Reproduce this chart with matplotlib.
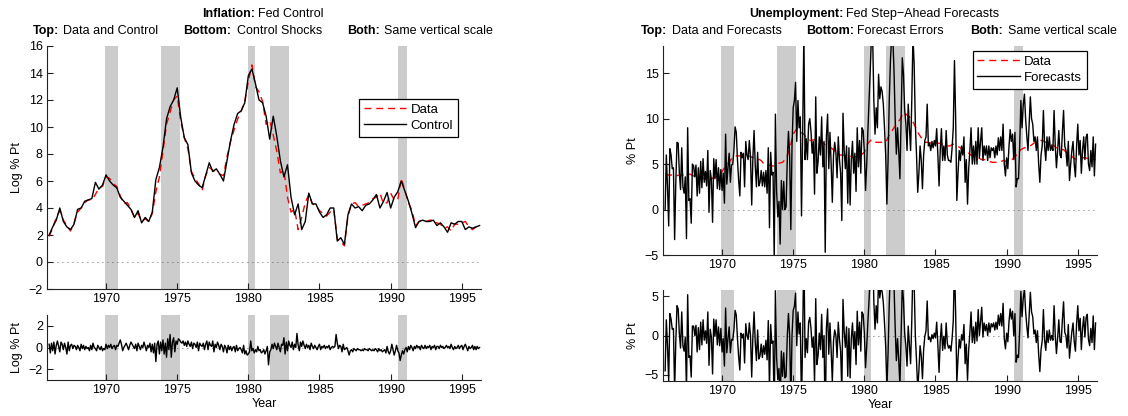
import numpy as np
import matplotlib
matplotlib.use("Agg")
import matplotlib.pyplot as plt

plt.rcParams['font.family'] = ['Liberation Sans', 'DejaVu Sans']
plt.rcParams['axes.unicode_minus'] = True

# ---------------- data ----------------
recessions = [(1969.92, 1970.83), (1973.83, 1975.17), (1980.0, 1980.5),
              (1981.5, 1982.83), (1990.5, 1991.17)]
xticks = [1970, 1975, 1980, 1985, 1990, 1995]

# quarterly series, starting 1966 Q1
infl_data = [
    1.9, 2.5, 3.3, 3.8, 3.1, 2.7, 2.3, 2.9, 3.7, 4.0, 4.4, 4.6,
    4.6, 5.0, 5.5, 5.6, 6.3, 6.2, 5.8, 5.6, 4.9, 4.3, 4.4, 3.9,
    3.3, 3.6, 3.0, 3.2, 3.0, 3.6, 5.2, 6.3, 8.2, 10.2, 11.1, 12.0,
    12.3, 10.4, 9.2, 8.4, 6.7, 6.2, 5.8, 5.3, 6.4, 7.0, 6.8, 6.7,
    6.5, 6.4, 7.8, 8.9, 9.8, 10.6, 11.2, 11.9, 13.4, 14.6, 13.0, 12.6,
    11.9, 10.2, 10.5, 9.4, 8.2, 6.6, 6.8, 4.8, 3.7, 3.9, 2.4, 3.3,
    4.4, 5.0, 4.3, 4.2, 3.8, 3.6, 3.4, 3.7, 3.9, 1.7, 1.5, 1.2,
    3.4, 4.3, 4.4, 4.1, 4.2, 4.3, 4.4, 4.7, 4.8, 5.1, 4.3, 4.4,
    5.1, 4.6, 4.6, 6.2, 5.3, 4.4, 3.8, 2.7, 3.0, 3.1, 3.0, 3.1,
    3.1, 2.9, 2.8, 2.5, 2.6, 2.3, 2.8, 2.8, 2.9, 3.0, 2.6, 2.4,
    2.6, 2.7]
infl_control = [
    2.0, 2.6, 3.1, 4.0, 3.0, 2.6, 2.4, 2.8, 3.9, 4.0, 4.5, 4.6,
    4.7, 5.9, 5.4, 5.7, 6.45, 6.0, 5.7, 5.5, 4.8, 4.5, 4.2, 3.9,
    3.3, 3.8, 2.9, 3.3, 3.0, 3.7, 6.1, 7.0, 8.5, 10.6, 11.5, 12.0,
    12.9, 10.7, 9.2, 8.7, 6.6, 6.0, 5.7, 5.5, 6.4, 7.35, 6.7, 6.9,
    6.5, 6.0, 7.5, 9.0, 10.2, 11.0, 11.2, 11.8, 13.8, 14.3, 13.2, 12.0,
    11.8, 10.8, 9.1, 10.8, 9.3, 7.5, 6.3, 7.2, 4.8, 3.5, 4.3, 2.4,
    3.0, 5.1, 4.3, 4.3, 3.7, 3.3, 3.5, 4.0, 4.0, 1.55, 1.8, 1.3,
    3.5, 4.3, 4.0, 4.1, 3.8, 4.2, 4.3, 4.6, 5.0, 4.0, 4.5, 5.15,
    4.0, 4.8, 5.2, 6.0, 5.25, 4.5, 3.6, 2.55, 3.0, 3.1, 3.0, 3.0,
    3.1, 2.7, 2.9, 2.6, 2.2, 2.9, 2.8, 3.0, 3.0, 2.4, 2.6, 2.5,
    2.6, 2.7]
unemp_data = [
    3.9, 3.8, 3.8, 3.7, 3.8, 3.8, 3.8, 3.9, 3.7, 3.6, 3.5, 3.4,
    3.4, 3.4, 3.6, 3.6, 4.2, 4.8, 5.2, 5.8, 5.9, 5.9, 6.0, 6.0,
    5.8, 5.7, 5.6, 5.4, 4.9, 4.9, 4.8, 4.8, 5.1, 5.2, 5.6, 6.6,
    8.3, 8.9, 8.5, 8.3, 7.7, 7.6, 7.7, 7.8, 7.5, 7.1, 6.9, 6.7,
    6.3, 6.0, 6.0, 5.9, 5.9, 5.7, 5.9, 6.0, 6.3, 7.3, 7.7, 7.4,
    7.4, 7.4, 7.4, 8.2, 8.8, 9.4, 9.9, 10.7, 10.4, 10.1, 9.4, 8.5,
    7.9, 7.4, 7.4, 7.3, 7.3, 7.3, 7.2, 7.0, 7.0, 7.2, 7.0, 6.8,
    6.6, 6.3, 6.0, 5.8, 5.7, 5.5, 5.5, 5.3, 5.2, 5.2, 5.2, 5.4,
    5.3, 5.3, 5.7, 6.1, 6.6, 6.8, 6.9, 7.1, 7.4, 7.6, 7.6, 7.4,
    7.1, 7.1, 6.8, 6.6, 6.6, 6.2, 6.0, 5.6, 5.5, 5.7, 5.7, 5.6,
    5.5, 5.5]

# monthly series, starting Jan 1966
control_shocks = [
    0.3, -0.5, 0.4, -0.3, 0.5, -0.6, 0.2, 0.6, 0.1, -0.4, 0.5, 0.3,
    -0.2, 0.4, 0.0, -0.6, 0.5, -0.3, 0.2, 0.3, -0.1, 0.2, 0.1, -0.2,
    0.2, 0.0, -0.3, 0.3, -0.1, 0.2, -0.2, 0.1, -0.1, 0.0, -0.3, 0.2,
    -0.2, 0.4, 0.0, -0.1, -0.3, 0.2, 0.0, -0.2, 0.1, -0.3, -0.1, -0.2,
    0.3, -0.1, 0.2, 0.0, 0.3, -0.1, 0.1, 0.2, -0.2, 0.2, 0.1, 0.4,
    0.7, 0.3, -0.3, 0.0, 0.2, 0.4, 0.1, -0.2, 0.2, 0.5, 0.3, 0.1,
    -0.1, 0.3, -0.3, 0.4, 0.1, -0.2, 0.2, 0.0, 0.5, 0.1, -0.3, 0.2,
    0.0, 0.4, -0.4, 0.3, -0.5, 0.4, -1.3, 0.3, 0.6, -0.6, 0.5, -0.3,
    0.7, -0.6, 0.4, -0.9, 0.8, -0.2, 1.2, -0.9, 0.5, 0.9, -0.4, 0.6,
    0.3, 0.8, 0.7, 0.5, 0.4, 0.6, 0.2, 0.5, 0.1, 0.6, 0.3, 0.1,
    0.5, -0.1, 0.4, 0.3, 0.0, 0.5, -0.3, 0.4, 0.2, 0.1, 0.4, -0.2,
    0.3, 0.6, -0.2, 0.5, 0.2, 0.1, 0.6, -0.4, 0.3, 0.0, 0.5, 0.2,
    -0.2, 0.3, 0.1, -0.4, 0.2, 0.0, -0.5, 0.2, -0.2, 0.1, -0.3, 0.0,
    0.1, -0.4, 0.2, -0.3, -0.1, 0.0, -0.2, -0.5, 0.2, -0.6, -0.3, -0.7,
    -0.6, -0.4, 0.6, -0.3, -0.1, -0.5, -0.2, -0.4, 0.1, -0.3, -0.2, -0.5,
    -0.4, -0.2, -0.6, -0.3, 0.1, -1.6, -0.4, -0.2, 0.3, -0.1, 0.4, 0.1,
    -0.2, 0.4, 0.0, -0.4, 0.3, 0.2, 0.9, -0.6, 0.5, -0.3, 0.6, 0.2,
    0.0, 0.5, -0.2, 0.3, 0.0, 1.3, 0.2, -0.3, 0.5, 0.1, 0.6, 0.2,
    -0.1, 0.3, 0.0, 0.2, -0.2, 0.4, 0.1, -0.1, 0.2, 0.0, -0.2, 0.1,
    0.3, -0.2, 0.1, 0.0, 0.2, -0.1, 0.1, 0.0, 0.2, -0.2, 0.0, 0.1,
    0.0, 0.1, 1.2, 0.4, -0.1, 0.2, 0.1, -0.4, 0.3, -0.2, -0.1, 0.0,
    -0.3, -0.7, -0.3, -0.2, -0.4, -0.1, -0.2, -0.3, -0.1, -0.2, -0.2, -0.3,
    -0.2, -0.3, -0.1, -0.2, -0.2, -0.3, -0.1, -0.2, -0.3, -0.2, -0.3, -0.1,
    -0.2, -0.4, -0.1, -0.3, -0.2, -0.4, -0.3, -0.2, -0.5, 0.1, -0.4, -0.6,
    -0.3, 0.3, -0.2, -0.7, -0.3, 0.2, -0.3, -0.5, -1.2, -0.7, -0.3, -0.6,
    -0.2, 0.0, -0.4, 0.1, -0.2, 0.2, 0.0, -0.3, 0.1, -0.1, 0.2, 0.0,
    0.1, -0.2, 0.2, 0.0, -0.1, 0.2, -0.1, 0.1, 0.0, 0.2, -0.2, 0.1,
    0.0, 0.2, -0.2, 0.1, 0.1, -0.1, 0.2, 0.0, 0.1, -0.1, 0.0, 0.2,
    0.0, 0.1, -0.1, 0.3, 0.0, -0.2, 0.1, -0.1, 0.0, 0.2, -0.1, 0.1,
    0.2, -0.2, 0.1, 0.3, 0.0, -0.3, 0.1, -0.1, 0.0, 0.2, -0.2, 0.1,
    -0.2, 0.1, -0.1, 0.0]

forecasts = [
    0.0, 6.0, 2.5, -1.8, 6.7, 6.0, 4.5, 4.6, -3.3, 3.0, 7.4, 7.3,
    4.0, 2.2, 6.8, 2.5, 1.8, 3.6, -3.2, 9.0, 1.0, 1.2, -1.5, 5.0,
    4.8, 3.6, 4.9, 1.5, 4.6, 1.8, 5.3, 2.4, 5.6, 3.0, 4.2, 2.6,
    6.5, -0.3, 4.3, 3.3, -1.4, 5.6, 3.4, 5.5, 2.3, 4.6, 2.2, 4.4,
    2.1, 4.0, 0.7, 8.3, 2.8, 4.6, 6.2, 3.0, 4.9, 5.0, 6.5, 9.1,
    8.5, 5.5, 3.2, 1.5, 6.3, 5.7, 6.2, 2.5, 7.5, 6.0, 5.5, 7.6,
    5.8, 0.5, 5.7, 8.7, 4.8, 2.5, 6.3, 2.6, 3.0, 4.3, 2.6, 4.1,
    2.5, 4.3, 1.8, 6.8, -2.0, 6.3, 3.8, 4.1, -5.5, 10.5, 2.0, -0.8,
    0.9, -3.8, 3.2, 0.0, 3.1, 0.0, 0.3, 5.5, 8.6, 6.0, -2.2, 7.0,
    11.2, 12.0, 14.0, 7.5, 12.0, 9.0, 10.2, -0.7, 8.5, 19.5, 5.5, 7.8,
    5.5, 9.4, 10.0, 8.6, 6.2, 7.5, 1.7, 12.4, 4.0, 5.3, 8.0, 6.0,
    10.2, 4.7, 7.5, -4.7, 8.0, 10.5, 4.5, 8.5, 5.0, 0.8, 6.0, 7.4,
    6.3, 3.5, 8.0, 5.5, 4.0, -1.2, 10.6, 6.5, 4.5, 7.0, 0.7, 6.8,
    0.5, 5.5, 7.5, 4.0, 6.2, 2.0, 9.0, 4.7, 7.6, 4.0, 9.0, 8.7,
    6.3, 2.1, 5.0, 8.7, 12.0, 15.5, 19.0, 19.0, 12.0, 8.3, 11.2, 9.0,
    14.9, 12.2, 13.5, 13.0, 11.6, 9.0, 6.0, 0.6, 5.4, 12.0, 16.4, 19.0,
    19.0, 15.3, 10.0, 6.1, 9.0, 6.5, 3.4, 10.0, 16.7, 14.9, 11.0, 9.5,
    6.5, 11.6, 9.0, 6.5, 12.0, 19.0, 16.0, 9.4, 6.0, 1.9, 4.0, 7.0,
    5.4, 2.3, 6.0, 7.6, 8.0, 11.6, 7.0, 7.3, 6.5, 7.5, 6.8, 7.6,
    7.0, 8.9, 6.0, 2.6, 6.5, 8.9, 5.4, 7.0, 5.4, 8.7, 6.0, 5.4,
    5.4, 5.2, 6.8, 9.0, 16.4, 10.0, 1.0, 4.0, 6.5, 5.4, 7.0, 6.0,
    8.0, 3.0, 5.5, 0.6, 4.5, 6.5, 9.0, 5.0, 7.0, 5.0, 7.5, 5.0,
    9.0, 5.7, 7.5, 9.0, 5.4, 7.0, 6.0, 7.0, 5.4, 7.0, 5.7, 6.8,
    6.5, 6.8, 5.7, 7.0, 6.0, 7.9, 6.5, 8.0, 6.5, 9.4, 5.0, 3.7,
    5.7, 4.5, 7.0, 8.8, 7.5, 8.3, 5.5, 8.5, 2.5, 3.4, 3.4, 7.0,
    12.0, 9.0, 11.5, 12.7, 10.0, 8.1, 6.5, 9.5, 12.4, 10.0, 9.4, 7.5,
    8.0, 6.5, 8.0, 5.0, 3.0, 6.0, 7.0, 10.9, 7.0, 5.4, 8.0, 6.5,
    8.0, 6.5, 7.0, 6.5, 10.9, 7.0, 4.6, 6.5, 8.7, 6.0, 5.7, 8.5,
    10.9, 7.0, 6.5, 4.8, 7.5, 3.2, 5.0, 6.5, 7.5, 5.0, 3.6, 7.0,
    9.4, 6.0, 7.6, 4.0, 6.5, 8.0, 5.5, 8.0, 8.3, 5.0, 4.3, 6.5,
    4.7, 8.0, 3.7, 7.2]

forecast_errors = [
    -4.5, 2.0, -1.4, -5.8, 2.8, 2.1, 0.8, 0.9, -7.0, -0.8, 3.8, 3.4,
    0.2, -1.6, 3.0, -1.3, -2.0, -0.2, -7.0, 5.2, -2.8, -2.6, -5.3, 1.2,
    1.2, 0.0, 1.3, -2.1, 1.0, -1.8, 1.7, -1.2, 2.0, -0.6, 0.6, -1.0,
    3.0, -3.8, 0.8, -0.2, -4.9, 2.1, -0.1, 2.0, -1.2, 1.1, -1.3, 0.9,
    -2.1, -0.4, -3.9, 3.5, -2.2, -0.4, 1.1, -2.2, -0.5, -0.6, 0.7, 3.2,
    2.6, -0.4, -2.7, -4.4, 0.3, -0.3, 0.2, -3.5, 1.5, 0.0, -0.5, 1.6,
    0.0, -5.3, -0.1, 3.0, -0.9, -3.2, 0.7, -3.0, -2.6, -1.1, -2.8, -1.3,
    -2.4, -0.6, -3.1, 1.9, -6.9, 1.4, -1.0, -0.7, -10.3, 5.7, -2.8, -5.6,
    -4.2, -8.9, -2.0, -5.2, -2.2, -5.4, -5.2, -0.1, 2.8, 0.0, -8.6, 0.0,
    3.2, 3.7, 5.4, -1.3, 3.0, 0.2, 1.6, -9.2, 0.1, 11.2, -2.8, -0.4,
    -2.2, 1.7, 2.3, 0.9, -1.5, -0.2, -6.0, 4.7, -3.7, -2.5, 0.3, -1.8,
    2.7, -2.8, 0.0, -11.8, 0.9, 3.4, -2.4, 1.6, -1.9, -5.9, -0.7, 0.7,
    0.0, -2.8, 1.7, -0.5, -2.0, -7.2, 4.6, 0.5, -1.5, 1.1, -5.2, 0.9,
    -5.4, -0.4, 1.6, -1.7, 0.5, -3.7, 3.1, -1.2, 1.7, -2.0, 3.0, 2.7,
    0.3, -4.1, -1.4, 1.8, 4.6, 7.9, 11.3, 11.3, 4.4, 0.8, 3.8, 1.6,
    7.5, 4.8, 6.1, 5.6, 4.2, 1.6, -1.4, -6.8, -2.2, 4.0, 8.3, 10.8,
    10.4, 6.5, 1.0, -3.2, -0.4, -3.1, -6.4, 0.1, 6.6, 4.5, 0.3, -1.3,
    -3.9, 1.2, -1.3, -3.6, 1.9, 9.0, 6.5, 0.0, -3.2, -6.9, -4.5, -1.3,
    -2.6, -5.5, -1.8, -0.1, 0.6, 4.4, -0.5, -0.2, -0.8, 0.1, -0.4, 0.3,
    -0.3, 1.7, -1.2, -4.7, -0.7, 1.5, -1.9, -0.1, -1.7, 1.6, -1.0, -1.6,
    -1.3, -2.0, -0.4, 1.9, 9.2, 2.8, -6.0, -2.9, -0.5, -1.6, 0.1, -0.6,
    1.4, -3.6, -1.1, -5.7, -1.8, 0.4, 3.0, -0.9, 1.1, -1.0, 1.7, -0.7,
    3.3, 0.0, 1.8, 3.6, -0.2, 1.6, 0.6, 1.4, 0.0, 1.6, 0.4, 1.5,
    1.1, 1.6, 0.7, 1.7, 0.8, 2.6, 1.3, 2.8, 1.2, 4.1, -0.4, -1.7,
    0.3, -0.8, 1.8, 3.4, 2.1, 3.1, 0.0, 2.8, -3.4, -2.5, -2.8, 0.7,
    5.6, 2.4, 4.7, 6.0, 3.1, 1.2, -0.3, 2.6, 5.5, 3.0, 2.4, 0.2,
    0.7, -0.9, 0.6, -2.4, -4.6, -1.8, -0.7, 3.3, -0.6, -1.9, 0.6, -0.9,
    0.7, -0.6, 0.0, -0.6, 3.8, 0.0, -2.3, -0.3, 2.0, -0.8, -0.9, 2.0,
    4.3, 0.4, 0.0, -1.6, 1.4, -2.9, -1.1, 0.5, 1.6, -0.8, -2.0, 1.5,
    3.8, 0.6, 2.2, -1.8, 0.9, 2.4, -0.2, 2.3, 2.7, -0.5, -1.3, 0.9,
    -0.9, 2.5, -1.8, 1.6]

# date axes (index -> decimal year)
t_q = 1966.0 + np.arange(len(infl_data)) / 4.0
t_m = 1966.0 + np.arange(len(forecasts)) / 12.0

XLIM = (1965.85, 1996.35)
GRAY = '#cccccc'
FS = 9

W, H = 1128, 416
fig = plt.figure(figsize=(W / 100, H / 100), dpi=100)


def px_axes(x0, y0, x1, y1):
    return fig.add_axes([x0 / W, 1 - y1 / H, (x1 - x0) / W, (y1 - y0) / H])


def style(ax, ylim, yticks):
    ax.set_xlim(*XLIM)
    ax.set_ylim(*ylim)
    ax.set_yticks(yticks)
    ax.set_xticks(xticks)
    for s in ('top', 'right'):
        ax.spines[s].set_visible(False)
    for s in ('left', 'bottom'):
        ax.spines[s].set_linewidth(0.8)
        ax.spines[s].set_color('#222222')
    ax.tick_params(direction='in', length=4, width=0.8, labelsize=FS,
                   pad=3, colors='#222222', labelcolor='black')
    for a, b in recessions:
        ax.axvspan(a, b, color=GRAY, lw=0, zorder=0)
    ax.axhline(0, color='#333333', lw=0.6, ls=(0, (1, 5)), zorder=1)


def make_legend(ax, anchor):
    leg = ax.legend(loc='upper left', bbox_to_anchor=anchor, borderaxespad=0,
                    fontsize=FS + 0.5, frameon=True, fancybox=False, edgecolor='black',
                    handlelength=3.2, labelspacing=0.3, borderpad=0.35,
                    handletextpad=0.35, framealpha=1)
    leg.get_frame().set_linewidth(0.9)
    leg.set_zorder(10)
    return leg


# ---- left panel ----
axL1 = px_axes(47, 46, 481, 289)
style(axL1, (-2, 16), list(range(-2, 17, 2)))
axL1.plot(t_q, infl_data, color='red', ls=(0, (5, 3.5)), lw=1.0, label='Data', zorder=2)
axL1.plot(t_q, infl_control, color='black', lw=1.0, label='Control', zorder=3)
axL1.set_ylabel('Log % Pt', fontsize=FS, labelpad=4)
make_legend(axL1, (0.719, 0.782))

axL2 = px_axes(47, 315, 481, 380)
style(axL2, (-3, 3), [-2, 0, 2])
axL2.plot(t_m[:len(control_shocks)], control_shocks, color='black', lw=1.0, zorder=3)
axL2.set_ylabel('Log % Pt', fontsize=FS, labelpad=4)
axL2.set_xlabel('Year', fontsize=FS, labelpad=1)

# ---- right panel ----
axR1 = px_axes(663, 46, 1097, 255)
style(axR1, (-5, 18), [-5, 0, 5, 10, 15])
axR1.plot(t_q, unemp_data, color='red', ls=(0, (5, 3.5)), lw=1.0, label='Data', zorder=2)
axR1.plot(t_m, forecasts, color='black', lw=1.0, label='Forecasts', zorder=3)
axR1.set_ylabel('% Pt', fontsize=FS, labelpad=4)
make_legend(axR1, (0.714, 0.976))

axR2 = px_axes(663, 290, 1097, 381)
style(axR2, (-5.8, 5.8), [-5, 0, 5])
axR2.plot(t_m, forecast_errors, color='black', lw=1.0, zorder=3)
axR2.set_ylabel('% Pt', fontsize=FS, labelpad=4)
axR2.set_xlabel('Year', fontsize=FS, labelpad=1)


# ---- titles ----
def ftext(x, y, s, bold=False):
    fig.text(x / W, 1 - y / H, s, fontsize=FS, ha='left', va='center',
             fontweight='bold' if bold else 'normal')


ftext(202, 14, 'Inflation:', True)
ftext(258, 14, 'Fed Control')
ftext(33, 31, 'Top:', True)
ftext(63, 31, 'Data and Control')
ftext(183, 31, 'Bottom:', True)
ftext(237, 31, 'Control Shocks')
ftext(347, 31, 'Both:', True)
ftext(384, 31, 'Same vertical scale')

ftext(749, 14, 'Unemployment:', True)
ftext(846, 14, 'Fed Step\u2212Ahead Forecasts')
ftext(641, 31, 'Top:', True)
ftext(672, 31, 'Data and Forecasts')
ftext(806, 31, 'Bottom:', True)
ftext(857, 31, 'Forecast Errors')
ftext(970, 31, 'Both:', True)
ftext(1008, 31, 'Same vertical scale')

fig.savefig('out.png', dpi=100)
